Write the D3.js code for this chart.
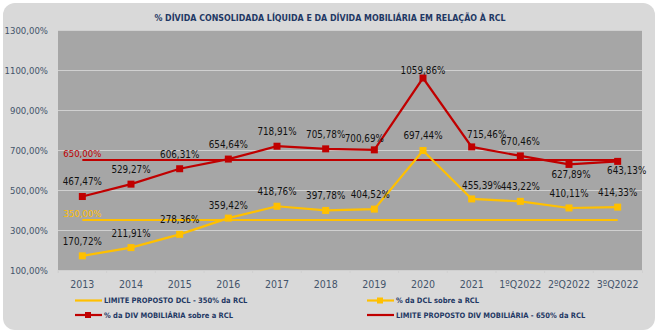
<!DOCTYPE html>
<html>
<head>
<meta charset="utf-8">
<script src="https://cdn.jsdelivr.net/npm/d3@7"></script>
<style>
  body { margin: 0; background: #fff; }
  svg text { font-family: "Liberation Sans Narrow", "DejaVu Sans Condensed", "Liberation Sans", sans-serif; }
</style>
</head>
<body>
<svg id="chart" width="658" height="333"></svg>
<script>
'use strict';

const categories = ["2013", "2014", "2015", "2016", "2017", "2018", "2019", "2020", "2021", "1ºQ2022", "2ºQ2022", "3ºQ2022"];
const dclValues = [170.72, 211.91, 278.36, 359.42, 418.76, 397.78, 404.52, 697.44, 455.39, 443.22, 410.11, 414.33];
const mobValues = [467.47, 529.27, 606.31, 654.64, 718.91, 705.78, 700.69, 1059.86, 715.46, 670.46, 627.89, 643.13];
const dclLimit = 350;
const mobLimit = 650;
const yTicks = [100, 300, 500, 700, 900, 1100, 1300];

const red = "#c00000", yellow = "#ffc000", navy = "#1f3864", slate = "#44546a";
const fmt = v => d3.format(".2f")(v).replace(".", ",") + "%";

const svg = d3.select("#chart");
const margin = { top: 30, right: 16, bottom: 63, left: 58 };
const width = 658, height = 333;

svg.append("rect")
  .attr("x", 3).attr("y", 3).attr("width", 652).attr("height", 327)
  .attr("rx", 12).attr("fill", "#d9d9d9");

const x = d3.scaleBand().domain(categories).range([margin.left, width - margin.right]);
const cx = c => x(c) + x.bandwidth() / 2;
const y = d3.scaleLinear().domain([100, 1300]).range([height - margin.bottom, margin.top]);

svg.append("rect")
  .attr("x", margin.left).attr("y", margin.top)
  .attr("width", width - margin.right - margin.left)
  .attr("height", height - margin.bottom - margin.top)
  .attr("fill", "#a6a6a6");

// grid
svg.append("g")
  .attr("transform", `translate(${margin.left},0)`)
  .call(d3.axisLeft(y).tickValues(yTicks).tickSize(-(width - margin.right - margin.left)).tickFormat(""))
  .call(g => g.select(".domain").remove())
  .call(g => g.selectAll("line").attr("stroke", "#d0d0d0").attr("stroke-width", 1));

// y labels
svg.append("g")
  .attr("transform", `translate(${margin.left},0)`)
  .call(d3.axisLeft(y).tickValues(yTicks).tickSize(0).tickPadding(10).tickFormat(fmt))
  .call(g => g.select(".domain").remove())
  .call(g => g.selectAll("text").attr("fill", slate).attr("font-size", "9.5px"));

// x axis
svg.append("g")
  .attr("transform", `translate(0,${height - margin.bottom})`)
  .call(d3.axisBottom(x).tickSize(3).tickPadding(8))
  .call(g => g.select(".domain").attr("stroke", "#d0d0d0"))
  .call(g => g.selectAll("line").attr("stroke", "#d0d0d0").attr("transform", `translate(${-x.bandwidth() / 2},0)`))
  .call(g => g.selectAll("text").attr("fill", slate).attr("font-size", "10.5px"));

const line = d3.line().x((d, i) => cx(categories[i])).y(d => y(d));

// limit lines
function limitLine(value, color) {
  svg.append("path")
    .datum(categories.map(() => value))
    .attr("d", line).attr("fill", "none")
    .attr("stroke", color).attr("stroke-width", 2.2);
  svg.append("text")
    .attr("x", cx(categories[0])).attr("y", y(value) - 3)
    .attr("text-anchor", "middle").attr("fill", color)
    .attr("font-size", "9.5px").text(fmt(value));
}
limitLine(dclLimit, yellow);
limitLine(mobLimit, red);

// layout nudges for data labels (index -> [dx, dy])
const dclNudge = { 3: [0, -13], 6: [-4, -15], 8: [10, -13] };
const mobNudge = { 6: [-10, -11], 7: [0, -7], 8: [15, -12], 10: [2, 10], 11: [9, 9] };

function series(values, color, nudge) {
  svg.append("path")
    .datum(values).attr("d", line).attr("fill", "none")
    .attr("stroke", color).attr("stroke-width", 2.2);
  svg.append("g").selectAll("rect")
    .data(values).join("rect")
    .attr("x", (d, i) => cx(categories[i]) - 3.5)
    .attr("y", d => y(d) - 3.5)
    .attr("width", 7).attr("height", 7).attr("fill", color);
  svg.append("g").selectAll("text")
    .data(values).join("text")
    .attr("x", (d, i) => cx(categories[i]) + (nudge[i] ? nudge[i][0] : 0))
    .attr("y", (d, i) => y(d) + (nudge[i] ? nudge[i][1] : -14.5))
    .attr("dy", "0.35em")
    .attr("text-anchor", "middle").attr("fill", "#111")
    .attr("font-size", "9.8px")
    .text(fmt);
}
series(dclValues, yellow, dclNudge);
series(mobValues, red, mobNudge);

// title
svg.append("text")
  .attr("x", 330).attr("y", 18).attr("dy", "0.35em")
  .attr("text-anchor", "middle").attr("fill", navy)
  .attr("font-size", "8.8px").attr("font-weight", "bold")
  .text("% DÍVIDA CONSOLIDADA LÍQUIDA E DA DÍVIDA MOBILIÁRIA EM RELAÇÃO À RCL");

// legend
const legendItems = [
  { label: "LIMITE PROPOSTO DCL - 350% da RCL", color: yellow, marker: false, x: 75, y: 300.5 },
  { label: "% da DCL sobre a RCL", color: yellow, marker: true, x: 367, y: 300.5 },
  { label: "% da DIV MOBILIÁRIA sobre a RCL", color: red, marker: true, x: 75, y: 315 },
  { label: "LIMITE PROPOSTO DIV MOBILIÁRIA - 650% da RCL", color: red, marker: false, x: 367, y: 315 }
];
const legend = svg.append("g").selectAll("g").data(legendItems).join("g")
  .attr("transform", d => `translate(${d.x},${d.y})`);
legend.append("line")
  .attr("x1", 0).attr("x2", 27).attr("stroke", d => d.color).attr("stroke-width", 2.2);
legend.filter(d => d.marker).append("rect")
  .attr("x", 10).attr("y", -3).attr("width", 6).attr("height", 6).attr("fill", d => d.color);
legend.append("text")
  .attr("x", 29).attr("dy", "0.35em")
  .attr("fill", navy).attr("font-size", "7.5px").attr("font-weight", "bold")
  .text(d => d.label);
</script>
</body>
</html>
